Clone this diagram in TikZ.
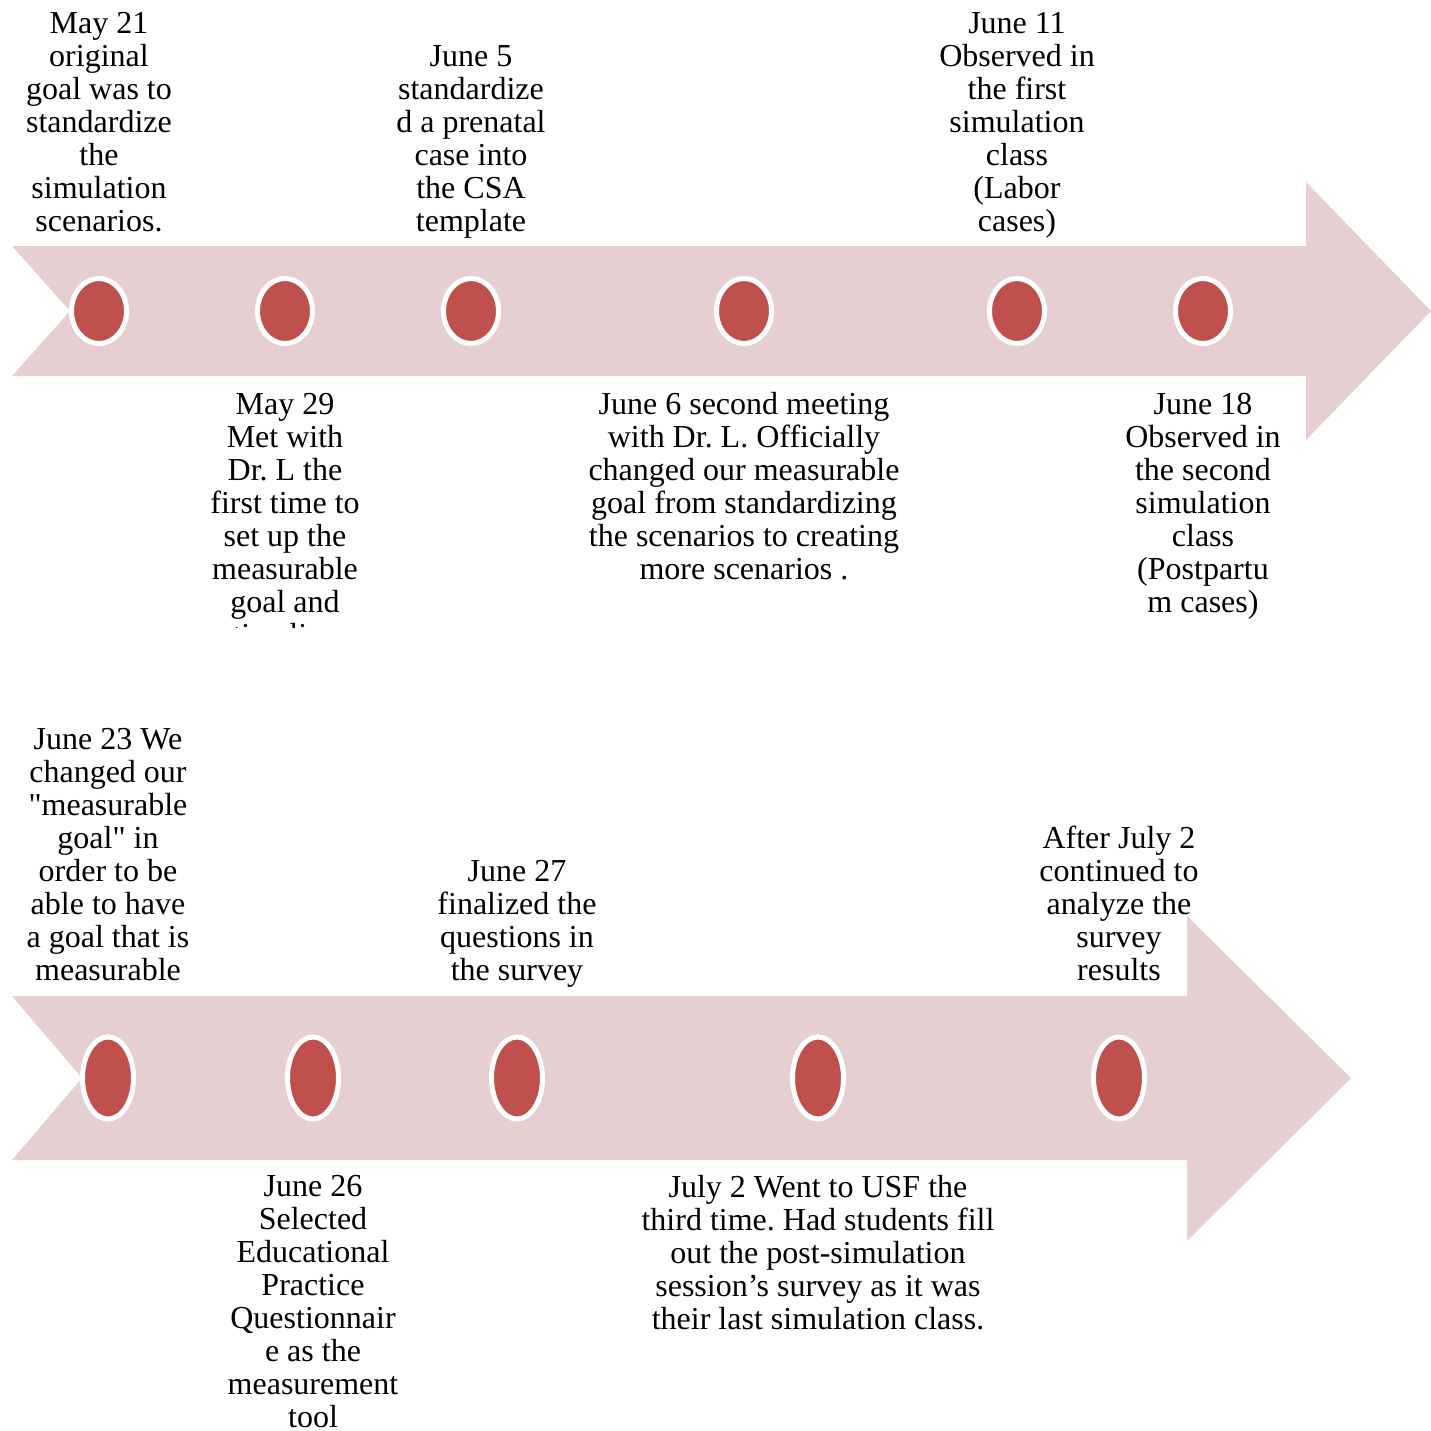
\documentclass[tikz,border=0pt]{standalone}
\usepackage{fontspec}
\setmainfont{Liberation Serif}
\newfontfamily\plainquote[Ligatures=ResetAll]{Liberation Serif}
\newcommand\sq{{\plainquote\symbol{34}}}
\usetikzlibrary{shapes.geometric}
\definecolor{bandpink}{RGB}{230,207,208}
\definecolor{dotred}{RGB}{192,80,77}
\frenchspacing

\begin{document}
\begin{tikzpicture}[
  x=0.5pt, y=-0.5pt,
  every node/.style={inner sep=0pt, outer sep=0pt},
  band/.style={fill=bandpink, draw=none},
  dottop/.style={ellipse, fill=dotred, draw=white, line width=2.5pt,
    minimum width=27.5pt, minimum height=32.5pt},
  dotlow/.style={ellipse, fill=dotred, draw=white, line width=2.5pt,
    minimum width=25.5pt, minimum height=41pt},
  note/.style={align=center, font=\fontsize{16}{16.5}\selectfont}
]
\useasboundingbox (0,0) rectangle (1431,1431);

% first timeline
\fill[band] (12,246) -- (1306,246) -- (1306,182) -- (1431,311)
  -- (1306,440) -- (1306,376) -- (12,376) -- (70,311) -- cycle;
\node[dottop] (may21) at (99,311) {};
\node[dottop] (may29) at (285,311) {};
\node[dottop] (jun5) at (471,311) {};
\node[dottop] (jun6) at (744,311) {};
\node[dottop] (jun11) at (1017,311) {};
\node[dottop] (jun18) at (1203,311) {};

\node[note, anchor=south] (may21txt) at (99,241)
  {\strut May 21\\original\\goal was to\\standardize\\the\\simulation\\scenarios.\strut};
\begin{scope}
  \clip (180,380) rectangle (400,627);
  \node[note, anchor=north] (may29txt) at (285,391)
    {\strut May 29\\Met with\\Dr. L the\\first time to\\set up the\\measurable\\goal and\\timeline\strut};
\end{scope}
\node[note, anchor=south] (jun5txt) at (471,241)
  {\strut June 5\\standardize\\d a prenatal\\case into\\the CSA\\template\strut};
\node[note, anchor=north] (jun6txt) at (744,391)
  {\strut June 6 second meeting\\with Dr. L. Officially\\changed our measurable\\goal from standardizing\\the scenarios to creating\\more scenarios .\strut};
\node[note, anchor=south] (jun11txt) at (1017,241)
  {\strut June 11\\Observed in\\the first\\simulation\\class\\(Labor\\cases)\strut};
\node[note, anchor=north] (jun18txt) at (1203,391)
  {\strut June 18\\Observed in\\the second\\simulation\\class\\(Postpartu\\m cases)\strut};

% second timeline
\fill[band] (12,996) -- (1187,996) -- (1187,916) -- (1351,1078)
  -- (1187,1241) -- (1187,1160) -- (12,1160) -- (82,1078) -- cycle;
\node[dotlow] (jun23) at (108,1078) {};
\node[dotlow] (jun26) at (313,1078) {};
\node[dotlow] (jun27) at (517,1078) {};
\node[dotlow] (jul2) at (818,1078) {};
\node[dotlow] (afterjul2) at (1119,1078) {};

\node[note, anchor=south] (jun23txt) at (108,990)
  {\strut June 23 We\\changed our\\\sq measurable\\goal\sq{} in\\order to be\\able to have\\a goal that is\\measurable\strut};
\node[note, anchor=north] (jun26txt) at (313,1173)
  {\strut June 26\\Selected\\Educational\\Practice\\Questionnair\\e as the\\measurement\\tool\strut};
\node[note, anchor=south] (jun27txt) at (517,990)
  {\strut June 27\\finalized the\\questions in\\the survey\strut};
\node[note, anchor=north] (jul2txt) at (818,1174)
  {\strut July 2 Went to USF the\\third time. Had students fill\\out the post-simulation\\session’s survey as it was\\their last simulation class.\strut};
\node[note, anchor=south] (afterjul2txt) at (1119,990)
  {\strut After July 2\\continued to\\analyze the\\survey\\results\strut};
\end{tikzpicture}
\end{document}
